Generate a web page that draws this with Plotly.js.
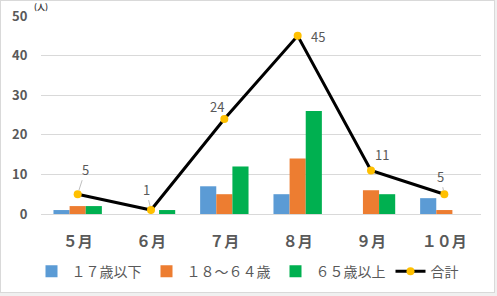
<!DOCTYPE html>
<html>
<head>
<meta charset="utf-8">
<script src="https://cdn.plot.ly/plotly-3.0.1.min.js"></script>
<style>
html,body{margin:0;padding:0;background:#f0f0f0;}
#wrap{position:absolute;left:0;top:0;width:493px;height:291px;border:1px solid #d9d9d9;background:#fff;}
#chart{width:493px;height:291px;}
</style>
</head>
<body>
<div id="wrap"><div id="chart"></div></div>
<script>
const months = ["５月","６月","７月","８月","９月","１０月"];
const under17 = [1,0,7,5,0,4];
const age18to64 = [2,0,5,14,6,1];
const over65 = [2,1,12,26,5,0];
const total = [5,1,24,45,11,5];
const seriesNames = ["１７歳以下","１８〜６４歳","６５歳以上","合計"];
// label offsets (pixels) for total data labels
const labelAx = [8,-5,-7,20,11,-4];
const labelAy = [-25,-21,-12,1,-16,-18];
const labelArrow = [true,true,false,false,false,true];

const grey = "#595959";
const font = "Noto Sans CJK JP, sans-serif";

const traces = [
  {type:"bar", name:seriesNames[0], x:months, y:under17, marker:{color:"#5B9BD5"}},
  {type:"bar", name:seriesNames[1], x:months, y:age18to64, marker:{color:"#ED7D31"}},
  {type:"bar", name:seriesNames[2], x:months, y:over65, marker:{color:"#00B050"}},
  {type:"scatter", mode:"lines+markers", name:seriesNames[3], x:months, y:total,
   line:{color:"#000000", width:3}, marker:{color:"#FFC000", size:8}}
];

const annotations = total.map((v,i)=>({
  x:months[i], y:v, xref:"x", yref:"y", text:String(v),
  showarrow:true, arrowhead:0, arrowwidth:1,
  arrowcolor: labelArrow[i] ? "#bfbfbf" : "rgba(0,0,0,0)",
  standoff:4, ax:labelAx[i], ay:labelAy[i],
  font:{family:font, size:13, color:grey}
}));
annotations.push({xref:"paper", yref:"paper", x:0.0, y:1.0, xanchor:"center", yanchor:"bottom",
  text:"<b>(人)</b>", showarrow:false, font:{family:font, size:8, color:"#404040"}, xshift:0, yshift:2});

const layout = {
  width:493, height:291,
  margin:{l:40, r:13, t:15, b:78, autoexpand:false},
  paper_bgcolor:"#ffffff", plot_bgcolor:"#ffffff",
  barmode:"group", bargap:0.34, bargroupgap:0,
  font:{family:font, color:grey},
  xaxis:{type:"category", showgrid:false, zeroline:false, showline:false, automargin:false,
    ticks:"outside", ticklen:14, tickcolor:"rgba(0,0,0,0)",
    tickfont:{family:font, size:15, color:grey, weight:"bold"}},
  yaxis:{range:[0,50], dtick:10, showgrid:true, gridcolor:"#d9d9d9", gridwidth:1, automargin:false,
    zeroline:true, zerolinecolor:"#d9d9d9", zerolinewidth:1, showline:false,
    ticks:"outside", ticklen:10, tickcolor:"rgba(0,0,0,0)",
    tickfont:{family:font, size:13, color:grey, weight:"bold"}},
  legend:{orientation:"h", x:0.5, xref:"container", xanchor:"center", y:0.07, yref:"container", yanchor:"middle",
    font:{family:font, size:14, color:grey}, itemwidth:30, tracegroupgap:0},
  annotations:annotations,
  showlegend:true
};
Plotly.newPlot("chart", traces, layout, {displayModeBar:false, staticPlot:true});
</script>
</body>
</html>
